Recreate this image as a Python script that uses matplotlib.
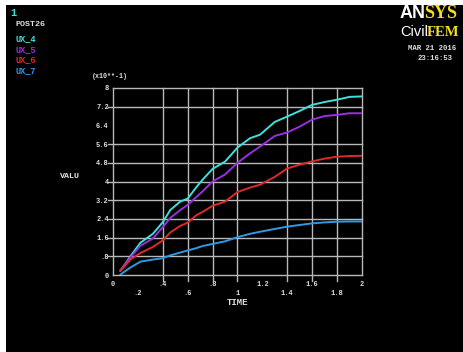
import numpy as np
import matplotlib
matplotlib.use("Agg")
import matplotlib.pyplot as plt
from matplotlib.patches import Rectangle

# time history, values in units of 10**-1
time = [0.06, 0.14, 0.22, 0.32, 0.40, 0.46, 0.54, 0.60, 0.67, 0.72, 0.80, 0.90,
        1.00, 1.10, 1.18, 1.30, 1.40, 1.50, 1.60, 1.70, 1.80, 1.90, 2.00]
ux_4 = [0.18, 0.80, 1.38, 1.76, 2.26, 2.78, 3.14, 3.27, 3.76, 4.08, 4.54, 4.85,
        5.45, 5.85, 6.00, 6.55, 6.78, 7.02, 7.28, 7.40, 7.50, 7.62, 7.64]
ux_5 = [0.21, 0.75, 1.25, 1.56, 2.05, 2.44, 2.78, 3.00, 3.34, 3.58, 4.00, 4.30,
        4.80, 5.20, 5.49, 5.95, 6.10, 6.35, 6.65, 6.80, 6.85, 6.92, 6.92]
ux_6 = [0.18, 0.66, 0.94, 1.20, 1.48, 1.82, 2.10, 2.24, 2.56, 2.70, 2.96, 3.14,
        3.55, 3.74, 3.86, 4.20, 4.56, 4.72, 4.86, 4.98, 5.06, 5.09, 5.10]
ux_7 = [0.02, 0.32, 0.57, 0.66, 0.72, 0.84, 0.96, 1.05, 1.15, 1.24, 1.33, 1.44,
        1.62, 1.76, 1.85, 1.97, 2.07, 2.14, 2.21, 2.25, 2.28, 2.29, 2.29]

series_names = ["UX_4", "UX_5", "UX_6", "UX_7"]
series_colors = ["#3ee0d8", "#9a2ee0", "#e02a2a", "#2e9ae6"]

xticks = [0, 0.2, 0.4, 0.6, 0.8, 1, 1.2, 1.4, 1.6, 1.8, 2]
xticklabels = ["0", ".2", ".4", ".6", ".8", "1", "1.2", "1.4", "1.6", "1.8", "2"]
yticks = [0, 0.8, 1.6, 2.4, 3.2, 4, 4.8, 5.6, 6.4, 7.2, 8]
yticklabels = ["0", ".8", "1.6", "2.4", "3.2", "4", "4.8", "5.6", "6.4", "7.2", "8"]
xgrid = [0.4, 0.6, 0.8, 1.0, 1.4, 1.6, 1.8]
ygrid = [0.8, 1.6, 2.4, 3.2, 4.0, 4.8, 5.6, 7.2]

mono = "Liberation Mono"
gridc = "#b8b8b8"
textc = "#e0e0e0"
yellow = "#f0e020"

fig = plt.figure(figsize=(4.64, 3.52), dpi=100, facecolor="white")
fig.patches.append(Rectangle((6 / 464, 0), 1, 1 - 5 / 352, transform=fig.transFigure,
                             facecolor="black", edgecolor="none", zorder=-5))

ax = fig.add_axes([113 / 464, 1 - 275 / 352, 249 / 464, 187 / 352])
ax.set_zorder(2)
ax.set_facecolor("black")
ax.set_xlim(0, 2)
ax.set_ylim(0, 8)

for x in xgrid:
    ax.axvline(x, ymin=-0.03, ymax=1, color=gridc, lw=1.0, clip_on=False, zorder=1)
for y in ygrid:
    ax.axhline(y, xmin=-0.02, xmax=1, color=gridc, lw=1.0, clip_on=False, zorder=1)

for vals, c in zip([ux_4, ux_5, ux_6, ux_7], series_colors):
    ax.plot(time, vals, color=c, lw=1.4, zorder=3)

for s in ax.spines.values():
    s.set_color(gridc)
    s.set_linewidth(1.0)

ax.set_xticks(xticks)
ax.set_xticklabels([])
ax.set_yticks(yticks)
ax.set_yticklabels(yticklabels, fontsize=5, family=mono, weight="bold", color=textc)
ax.tick_params(length=0, pad=3)

# staggered x labels in two rows
for i, (x, lab) in enumerate(zip(xticks, xticklabels)):
    dy = -0.05 if i % 2 == 0 else -0.1
    ax.text(x, dy, lab, transform=ax.get_xaxis_transform(), ha="center", va="center",
            fontsize=5, family=mono, weight="bold", color=textc)

ax.text(0.5, -0.148, "TIME", transform=ax.transAxes, ha="center", va="center",
        fontsize=6.5, family=mono, weight="bold", color=textc)
fig.text(70 / 464, 1 - 177 / 352, "VALU", ha="center", va="center",
         fontsize=6, family=mono, weight="bold", color=textc)
fig.text(110 / 464, 1 - 76 / 352, "(x10**-1)", ha="center", va="center",
         fontsize=4.8, family=mono, weight="bold", color=textc)

# legend block
fig.text(10 / 464, 1 - 13 / 352, "1", ha="left", va="center", fontsize=7.5,
         family=mono, weight="bold", color=series_colors[0])
fig.text(16 / 464, 1 - 24 / 352, "POST26", ha="left", va="center", fontsize=6,
         family=mono, weight="bold", color=textc)
for i, (name, c) in enumerate(zip(series_names, series_colors)):
    fig.text(16 / 464, 1 - (39 + i * 10.5) / 352, name, ha="left", va="center",
             fontsize=6.2, family=mono, weight="bold", color=c)

# logo: second half of each word placed right after the first
renderer = fig.canvas.get_renderer()


def logo_word(x0, y0, left, right, size, left_kw):
    t = fig.text(x0 / 464, 1 - y0 / 352, left, ha="left", va="center", fontsize=size,
                 color="white", **left_kw)
    bb = t.get_window_extent(renderer)
    fig.text((bb.x1 - 1.5) / 464, 1 - y0 / 352, right, ha="left", va="center",
             fontsize=size, color=yellow, family="Liberation Serif", weight="bold")


logo_word(400, 14, "AN", "SYS", 13, dict(family="Liberation Sans", weight="bold"))
logo_word(400, 32, "Civil", "FEM", 10.5, dict(family="Liberation Sans"))

fig.text(456 / 464, 1 - 49 / 352, "MAR 21 2016", ha="right", va="center", fontsize=5.3,
         family=mono, weight="bold", color=textc)
fig.text(453 / 464, 1 - 59 / 352, "23:16:53", ha="right", va="center", fontsize=5.3,
         family=mono, weight="bold", color=textc)

fig.savefig("out.png", dpi=100, facecolor=fig.get_facecolor())
